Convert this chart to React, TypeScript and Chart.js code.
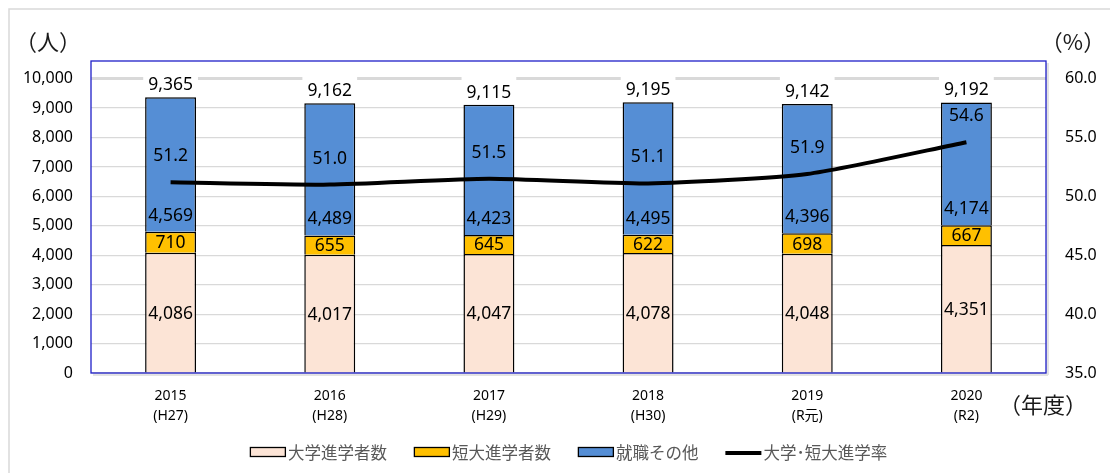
import React, { useEffect, useRef } from "react";
import { Chart, registerables } from "chart.js";

Chart.register(...registerables);

const categories: string[][] = [
  ["2015", "(H27)"],
  ["2016", "(H28)"],
  ["2017", "(H29)"],
  ["2018", "(H30)"],
  ["2019", "(R元)"],
  ["2020", "(R2)"],
];
const univ = [4086, 4017, 4047, 4078, 4048, 4351];
const junior = [710, 655, 645, 622, 698, 667];
const employ = [4569, 4489, 4423, 4495, 4396, 4174];
const totals = [9365, 9162, 9115, 9195, 9142, 9192];
const rate = [51.2, 51.0, 51.5, 51.1, 51.9, 54.6];

const leftTicks = [0, 1000, 2000, 3000, 4000, 5000, 6000, 7000, 8000, 9000, 10000];
const rightTicks = [35, 40, 45, 50, 55, 60];

const FONT = "'Noto Sans', 'Noto Sans CJK JP', sans-serif";
const JFONT = "'Noto Sans CJK JP', 'Noto Sans', sans-serif";

const COLORS = {
  univ: "#FCE4D6",
  junior: "#FFC000",
  employ: "#558ED5",
};

const fmt = (v: number) => v.toLocaleString("en-US");

const decorPlugin = {
  id: "decor",
  beforeDraw(chart: any) {
    const { ctx, chartArea } = chart;
    ctx.save();
    ctx.strokeStyle = "#D9D9D9";
    ctx.lineWidth = 1.5;
    ctx.strokeRect(9, 9, 1200, 600);
    ctx.fillStyle = "#E3E3E3";
    ctx.fillRect(chartArea.left + 2, chartArea.bottom, chartArea.right - chartArea.left, 3);
    ctx.fillRect(chartArea.right, chartArea.top + 2, 3, chartArea.bottom - chartArea.top);
    ctx.restore();
  },
  afterDatasetsDraw(chart: any) {
    const { ctx, chartArea } = chart;
    ctx.save();
    ctx.strokeStyle = "#1F1FC8";
    ctx.lineWidth = 1.3;
    ctx.strokeRect(chartArea.left, chartArea.top, chartArea.right - chartArea.left, chartArea.bottom - chartArea.top);

    ctx.textAlign = "center";
    ctx.textBaseline = "middle";
    ctx.font = `17.5px ${FONT}`;
    ctx.fillStyle = "#000";

    const m0 = chart.getDatasetMeta(0);
    const m1 = chart.getDatasetMeta(1);
    const m2 = chart.getDatasetMeta(2);

    for (let i = 0; i < categories.length; i++) {
      const b0 = m0.data[i];
      const b1 = m1.data[i];
      const b2 = m2.data[i];
      ctx.fillStyle = "#000";
      ctx.fillText(fmt(univ[i]), b0.x, (b0.y + b0.base) / 2 + 1);
      ctx.fillText(fmt(junior[i]), b1.x, (b1.y + b1.base) / 2 + 1);
      ctx.fillText(fmt(employ[i]), b2.x, b2.base - 16);

      const ty = b2.y - 13;
      const tw = ctx.measureText(fmt(totals[i])).width;
      ctx.fillStyle = "#FFFFFF";
      ctx.fillRect(b2.x - tw / 2 - 5, ty - 19, tw + 10, 29);
      ctx.fillStyle = "#000";
      ctx.fillText(fmt(totals[i]), b2.x, ty + 1);
    }
    ctx.restore();
  },
  afterDraw(chart: any) {
    const { ctx, chartArea } = chart;
    ctx.save();
    ctx.textAlign = "center";
    ctx.textBaseline = "middle";
    ctx.fillStyle = "#000";
    ctx.font = `17.5px ${FONT}`;
    const m3 = chart.getDatasetMeta(3);
    for (let i = 0; i < rate.length; i++) {
      const p = m3.data[i];
      ctx.fillText(rate[i].toFixed(1), p.x, p.y - 26);
    }

    ctx.fillStyle = "#1A1A1A";
    ctx.font = `22px ${JFONT}`;
    ctx.fillText("（人）", 48, 42);
    ctx.fillText("（%）", 1073, 42);
    ctx.fillText("（年度）", 1043, 405);

    const items = [
      { label: "大学進学者数", type: "box", color: COLORS.univ },
      { label: "短大進学者数", type: "box", color: COLORS.junior },
      { label: "就職その他", type: "box", color: COLORS.employ },
      { label: "大学･短大進学率", type: "line", color: "#000" },
    ];
    ctx.font = `16.5px ${JFONT}`;
    const boxW = 36;
    const gap = 2;
    const spacing = 27;
    const widths = items.map((it) => boxW + gap + ctx.measureText(it.label).width);
    const total = widths.reduce((a, b) => a + b, 0) + spacing * (items.length - 1);
    let x = (chartArea.left + chartArea.right) / 2 - total / 2;
    const ly = 452;
    ctx.textAlign = "left";
    items.forEach((it, idx) => {
      if (it.type === "box") {
        ctx.fillStyle = it.color;
        ctx.fillRect(x + 0.5, ly - 4.5, boxW - 1, 9);
        ctx.strokeStyle = "#000";
        ctx.lineWidth = 1.3;
        ctx.strokeRect(x + 0.5, ly - 4.5, boxW - 1, 9);
      } else {
        ctx.strokeStyle = "#000";
        ctx.lineWidth = 4;
        ctx.beginPath();
        ctx.moveTo(x, ly + 1);
        ctx.lineTo(x + boxW, ly + 1);
        ctx.stroke();
      }
      ctx.fillStyle = "#595959";
      ctx.fillText(it.label, x + boxW + gap, ly + 1);
      x += widths[idx] + spacing;
    });
    ctx.restore();
  },
};

export default function App() {
  const ref = useRef<HTMLCanvasElement | null>(null);
  useEffect(() => {
    if (!ref.current) return;
    const chart = new Chart(ref.current, {
      type: "bar",
      data: {
        labels: categories,
        datasets: [
          {
            label: "大学進学者数",
            data: univ,
            backgroundColor: COLORS.univ,
            borderColor: "#000",
            borderWidth: 1.5,
            stack: "s",
            yAxisID: "y",
            order: 1,
          },
          {
            label: "短大進学者数",
            data: junior,
            backgroundColor: COLORS.junior,
            borderColor: "#000",
            borderWidth: 1.5,
            stack: "s",
            yAxisID: "y",
            order: 1,
          },
          {
            label: "就職その他",
            data: employ,
            backgroundColor: COLORS.employ,
            borderColor: "#000",
            borderWidth: 1.5,
            stack: "s",
            yAxisID: "y",
            order: 1,
          },
          {
            type: "line",
            label: "大学・短大進学率",
            data: rate,
            borderColor: "#000",
            backgroundColor: "#000",
            borderWidth: 4,
            pointRadius: 0,
            tension: 0.2,
            yAxisID: "y2",
            order: 0,
          } as any,
        ],
      },
      options: {
        animation: false,
        responsive: true,
        maintainAspectRatio: false,
        layout: { padding: { left: 0, right: 0, top: 61, bottom: 0 } },
        datasets: { bar: { categoryPercentage: 1, barPercentage: 0.32 } },
        plugins: { legend: { display: false }, tooltip: { enabled: false } },
        scales: {
          x: {
            stacked: true,
            grid: { display: false, drawTicks: false },
            border: { display: false },
            ticks: {
              color: "#000",
              font: { family: FONT, size: 14, lineHeight: "20px" } as any,
              padding: 13,
              maxRotation: 0,
              autoSkip: false,
            },
            afterFit: (s: any) => {
              s.height = 100;
            },
          },
          y: {
            stacked: true,
            position: "left",
            min: 0,
            max: 10600,
            grid: {
              color: "#D9D9D9",
              lineWidth: (c: any) => (c.tick && c.tick.value === 10000 ? 3 : 1.2),
              drawTicks: false,
            },
            border: { display: false },
            ticks: {
              color: "#000",
              font: { family: FONT, size: 16 },
              padding: 18,
              callback: (v: any) => fmt(Number(v)),
            },
            afterBuildTicks: (s: any) => {
              s.ticks = leftTicks.map((v) => ({ value: v }));
            },
            afterFit: (s: any) => {
              s.width = 91;
            },
          },
          y2: {
            position: "right",
            min: 35,
            max: 61.5,
            grid: { display: false, drawTicks: false },
            border: { display: false },
            ticks: {
              color: "#000",
              font: { family: FONT, size: 16 },
              padding: 19,
              callback: (v: any) => Number(v).toFixed(1),
            },
            afterBuildTicks: (s: any) => {
              s.ticks = rightTicks.map((v) => ({ value: v }));
            },
            afterFit: (s: any) => {
              s.width = 64;
            },
          },
        },
      },
      plugins: [decorPlugin],
    });
    return () => chart.destroy();
  }, []);

  return (
    <div style={{ position: "fixed", left: 0, top: 0, width: 1110, height: 473, background: "#fff" }}>
      <canvas ref={ref} />
    </div>
  );
}
